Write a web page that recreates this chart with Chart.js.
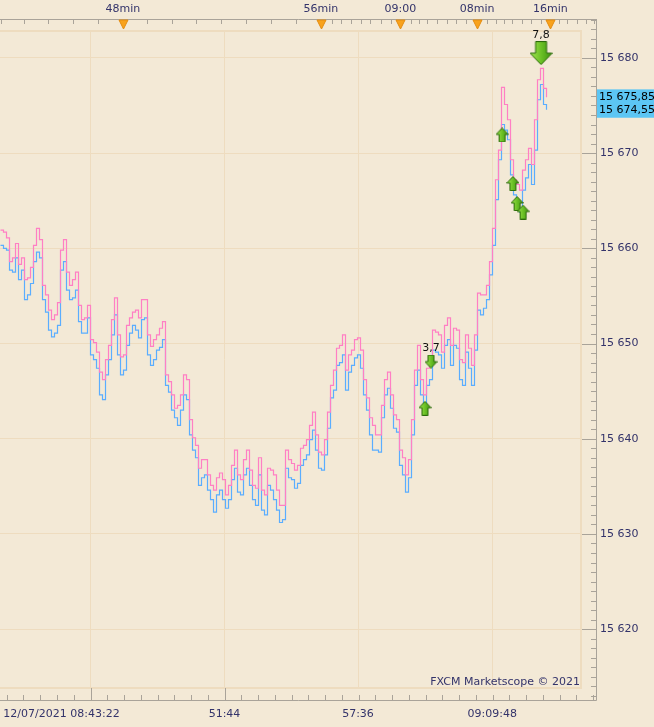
<!DOCTYPE html>
<html>
<head>
<meta charset="utf-8">
<script src="https://cdn.jsdelivr.net/npm/chart.js@4.4.1/dist/chart.umd.min.js"></script>
<style>
  html, body { margin: 0; padding: 0; background: #f3e9d6; }
  #wrap { width: 654px; height: 727px; position: relative; }
</style>
</head>
<body>
<div id="wrap"><canvas id="chart"></canvas></div>
<script>
// tick prices, one value per tick index (ask = pink, bid = blue)
var askPrice = [
  15661.9, 15661.7, 15661.1, 15658.6, 15659.0, 15660.5, 15658.3, 15659.0, 15656.7, 15656.9,
  15658.0, 15660.3, 15662.1, 15660.9, 15656.1, 15655.1, 15653.5, 15652.5, 15653.0, 15654.3,
  15659.8, 15660.9, 15657.5, 15656.1, 15656.7, 15657.5, 15654.0, 15652.5, 15652.7, 15654.0,
  15650.4, 15650.1, 15649.1, 15647.0, 15646.2, 15648.3, 15649.8, 15652.5, 15654.8, 15650.9,
  15648.6, 15648.8, 15651.9, 15652.7, 15653.3, 15653.5, 15652.7, 15654.6, 15654.6, 15650.9,
  15649.7, 15650.4, 15650.9, 15651.6, 15652.3, 15646.7, 15646.0, 15644.6, 15643.2, 15643.5,
  15644.6, 15646.7, 15646.2, 15642.0, 15640.1, 15639.3, 15636.9, 15637.8, 15637.8, 15636.2,
  15635.1, 15634.6, 15635.9, 15636.4, 15635.7, 15634.1, 15635.1, 15637.2, 15638.8, 15636.2,
  15635.7, 15637.8, 15638.8, 15636.7, 15635.1, 15634.8, 15638.0, 15634.6, 15634.1, 15636.9,
  15636.7, 15636.2, 15634.6, 15633.0, 15633.0, 15638.8, 15637.8, 15637.4, 15636.7, 15637.2,
  15639.0, 15639.3, 15639.9, 15641.4, 15642.8, 15640.4, 15638.6, 15638.3, 15639.9, 15642.8,
  15645.6, 15647.2, 15649.5, 15649.8, 15650.9, 15647.2, 15648.8, 15649.3, 15650.4, 15650.6,
  15649.3, 15646.2, 15644.3, 15642.2, 15641.4, 15640.4, 15640.4, 15643.5, 15646.2, 15647.0,
  15644.6, 15642.5, 15642.0, 15638.8, 15638.0, 15636.2, 15637.8, 15642.0, 15647.2, 15649.8,
  15646.2, 15644.6, 15647.4, 15648.0, 15651.4, 15651.2, 15650.9, 15649.1, 15651.9, 15652.7,
  15649.8, 15651.6, 15651.4, 15648.3, 15648.0, 15650.9, 15649.5, 15647.7, 15650.9, 15655.3,
  15655.1, 15655.1, 15656.1, 15658.6, 15662.1, 15667.2, 15670.3, 15676.9, 15675.1, 15673.5,
  15669.3, 15667.2, 15666.7, 15666.1, 15668.2, 15669.3, 15670.5, 15668.8, 15673.5, 15677.7,
  15678.9, 15676.8, 15675.85
];
var bidPrice = [
  15660.3, 15660.0, 15659.8, 15657.7, 15657.5, 15659.0, 15656.7, 15657.7, 15654.6, 15655.1,
  15656.3, 15658.6, 15659.6, 15659.0, 15654.6, 15653.3, 15651.4, 15650.7, 15651.1, 15651.9,
  15657.7, 15658.6, 15655.6, 15654.6, 15654.8, 15655.6, 15652.3, 15651.1, 15651.1, 15652.7,
  15648.8, 15648.3, 15647.4, 15644.6, 15644.1, 15646.7, 15648.3, 15650.9, 15653.0, 15648.8,
  15646.7, 15647.2, 15649.8, 15651.1, 15651.9, 15651.4, 15650.6, 15652.5, 15652.7, 15648.8,
  15647.7, 15648.3, 15649.3, 15649.6, 15650.4, 15645.6, 15644.9, 15643.0, 15642.2, 15641.4,
  15643.0, 15644.6, 15644.1, 15640.4, 15638.8, 15638.0, 15635.1, 15635.9, 15636.2, 15634.6,
  15633.6, 15632.3, 15634.1, 15634.6, 15633.6, 15632.7, 15633.6, 15635.7, 15636.9, 15634.4,
  15634.1, 15636.2, 15636.9, 15635.1, 15633.6, 15633.0, 15636.2, 15632.5, 15632.0, 15635.1,
  15634.6, 15633.6, 15632.5, 15631.2, 15631.5, 15636.9, 15635.9, 15635.7, 15634.8, 15635.3,
  15637.2, 15637.8, 15638.3, 15639.9, 15640.9, 15638.8, 15636.9, 15636.7, 15638.3, 15641.1,
  15644.3, 15645.1, 15647.7, 15648.0, 15648.8, 15645.1, 15647.0, 15647.7, 15648.5, 15648.8,
  15647.4, 15644.6, 15643.0, 15640.4, 15638.8, 15638.8, 15638.6, 15642.2, 15644.6, 15645.3,
  15643.2, 15641.1, 15640.7, 15637.2, 15636.2, 15634.4, 15635.9, 15640.4, 15645.6, 15647.2,
  15644.6, 15643.0, 15645.6, 15646.2, 15649.3, 15649.1, 15648.8, 15647.4, 15649.8, 15650.4,
  15647.7, 15649.8, 15649.5, 15646.2, 15645.6, 15649.1, 15647.4, 15645.6, 15649.3, 15653.5,
  15653.0, 15653.7, 15654.6, 15657.2, 15660.3, 15665.1, 15669.3, 15673.0, 15672.4, 15671.4,
  15667.7, 15665.6, 15664.8, 15663.8, 15666.1, 15667.4, 15668.8, 15666.7, 15670.3, 15675.6,
  15677.2, 15675.1, 15674.55
];

// trade markers (tick index, price, direction, label)
var markerIdx = [141.5, 143.5, 167.2, 170.8, 172.2, 174.2, 180.2];
var markerPrice = [15643.2, 15648.1, 15671.9, 15666.8, 15664.7, 15663.8, 15680.5];
var markerDir = ['up', 'down', 'up', 'up', 'up', 'up', 'bigdown'];
var markerText = ['', '3,7', '', '', '', '', '7,8'];

// axes
var yTicks = [15620, 15630, 15640, 15650, 15660, 15670, 15680];
var bottomTicks = [20.33, 30, 74.67, 119.17, 163.9];
var bottomLabels = ['12/07/2021 08:43:22', '', '51:44', '57:36', '09:09:48'];
var topTicks = [0, 7.8, 15.9, 24.2, 32.4, 40.8, 48.9, 57.1, 65.3, 73.6, 81.9, 90.2, 98.6, 106.8,
  110.6, 113.6, 116.7, 120, 123.3, 126.7, 130, 133.3, 136.7, 139.4, 142.2, 145.6, 148.9, 151.7,
  155, 158.9, 162.2, 165, 167.8, 170.6, 173.9, 176.7, 180, 183.3, 186.1, 188.9, 192.2, 195, 197.8];
var topLabelAt = [40.8, 106.8, 133.3, 158.9, 183.3];
var topLabels = ['48min', '56min', '09:00', '08min', '16min'];

var bg = '#f3e9d6';
var gridColor = '#eedcbf';
var axisColor = '#a9a399';
var textColor = '#33336a';
var font = { family: 'DejaVu Sans', size: 11 };

function fmtPrice(v, dec) {
  var s = v.toFixed(dec).split('.');
  var r = s[0].replace(/\B(?=(\d{3})+(?!\d))/g, ' ');
  return s.length > 1 ? r + ',' + s[1] : r;
}

function makeArrow(w, h, shaftW, headH, down) {
  var c = document.createElement('canvas');
  c.width = w; c.height = h;
  var g = c.getContext('2d');
  var m = w / 2, sl = m - shaftW / 2, sr = m + shaftW / 2;
  var pts = [[m, 0.5], [w - 0.5, headH], [sr, headH], [sr, h - 0.5], [sl, h - 0.5], [sl, headH], [0.5, headH]];
  g.beginPath();
  pts.forEach(function(p, i) {
    var y = down ? h - p[1] : p[1];
    if (i === 0) g.moveTo(p[0], y); else g.lineTo(p[0], y);
  });
  g.closePath();
  var grad = g.createLinearGradient(0, 0, w, 0);
  grad.addColorStop(0, '#a6e854');
  grad.addColorStop(0.5, '#6cc126');
  grad.addColorStop(1, '#3a8f0e');
  g.fillStyle = grad;
  g.fill();
  g.strokeStyle = '#2b6a0a';
  g.lineWidth = 1;
  g.stroke();
  return c;
}

var arrows = {
  up: makeArrow(13, 15, 6, 7, false),
  down: makeArrow(13, 14, 6, 7, true),
  bigdown: makeArrow(23, 24, 11, 12, true)
};

function noPad(s) {
  s.paddingLeft = 0; s.paddingRight = 0; s.paddingTop = 0; s.paddingBottom = 0;
}

var frame = {
  id: 'frame',
  beforeDatasetsDraw: function(chart) {
    var ctx = chart.ctx, a = chart.chartArea;
    var pr = 582, pt = 31, pb = 688;
    ctx.save();
    ctx.fillStyle = bg;
    ctx.fillRect(a.left, a.top, a.right - a.left, pt - a.top);
    ctx.fillRect(pr, a.top, a.right - pr, a.bottom - a.top);
    ctx.fillRect(a.left, pb, a.right - a.left, a.bottom - pb);
    ctx.strokeStyle = gridColor;
    ctx.lineWidth = 2;
    ctx.strokeRect(a.left - 2, pt, pr - a.left + 1, pb - pt);
    ctx.restore();
  },
  afterDraw: function(chart) {
    var ctx = chart.ctx, a = chart.chartArea;
    var xs = chart.scales.x, ys = chart.scales.y, ts = chart.scales.x2;
    ctx.save();
    ctx.strokeStyle = axisColor;
    ctx.lineWidth = 1;
    ctx.beginPath();
    ctx.moveTo(a.left, a.top + 0.5); ctx.lineTo(a.right + 0.5, a.top + 0.5);
    ctx.moveTo(a.right + 0.5, a.top); ctx.lineTo(a.right + 0.5, a.bottom + 0.5);
    ctx.moveTo(a.left, a.bottom + 0.5); ctx.lineTo(a.right + 0.5, a.bottom + 0.5);
    // top minute ticks
    topTicks.forEach(function(v) {
      var px = Math.round(ts.getPixelForValue(v)) + 0.5;
      ctx.moveTo(px, a.top); ctx.lineTo(px, a.top + 5);
    });
    // right axis ticks
    for (var p = 15613; p <= 15684; p++) {
      var py = Math.round(ys.getPixelForValue(p)) + 0.5;
      var major = yTicks.indexOf(p) >= 0;
      ctx.moveTo(major ? 582 : a.right - 5, py); ctx.lineTo(a.right, py);
    }
    // bottom ticks
    var step = (bottomTicks[2] - bottomTicks[1]) / 8;
    for (var t = bottomTicks[1] - step * 5; t < xs.max; t += step) {
      var bx = Math.round(xs.getPixelForValue(t)) + 0.5;
      var isMajor = bottomTicks.slice(1).some(function(m) { return Math.abs(m - t) < 0.01; });
      ctx.moveTo(bx, isMajor ? 688 : a.bottom - 5); ctx.lineTo(bx, a.bottom);
    }
    ctx.stroke();

    // orange markers on the time axis
    ctx.fillStyle = '#f8a21c';
    ctx.strokeStyle = '#e48c10';
    topLabelAt.forEach(function(v) {
      var px = Math.round(ts.getPixelForValue(v)) + 0.5;
      ctx.beginPath();
      ctx.moveTo(px - 4.5, a.top + 1);
      ctx.lineTo(px + 4.5, a.top + 1);
      ctx.lineTo(px, a.top + 10);
      ctx.closePath();
      ctx.fill();
      ctx.stroke();
    });

    // marker labels
    ctx.font = '11px "DejaVu Sans"';
    ctx.fillStyle = '#111';
    ctx.textAlign = 'center';
    ctx.textBaseline = 'middle';
    markerText.forEach(function(s, i) {
      if (!s) return;
      var img = arrows[markerDir[i]];
      var mx = xs.getPixelForValue(markerIdx[i]);
      var my = ys.getPixelForValue(markerPrice[i]);
      ctx.fillText(s, mx, my - img.height / 2 - 6);
    });

    // copyright
    ctx.fillStyle = textColor;
    ctx.textAlign = 'right';
    ctx.fillText('FXCM Marketscope \u00a9 2021', 580, 682);

    // last price badges
    var ask = askPrice[askPrice.length - 1], bid = bidPrice[bidPrice.length - 1];
    var ay = ys.getPixelForValue(ask), by = ys.getPixelForValue(bid);
    ctx.fillStyle = '#5cc6f4';
    ctx.fillRect(a.right + 1, ay - 8, chart.width - a.right - 1, by - ay + 16);
    ctx.fillStyle = '#000';
    ctx.textAlign = 'left';
    ctx.fillText(fmtPrice(ask, 2), a.right + 3, ay);
    ctx.fillText(fmtPrice(bid, 2), a.right + 3, by);
    ctx.restore();
  }
};

// index range of the visible window (3 px per tick, shifted half a pixel for crisp steps)
var xMin = -1 / 6;
var xMax = 198.5;

new Chart(document.getElementById('chart'), {
  type: 'line',
  data: {
    datasets: [
      {
        label: 'markers',
        data: markerIdx.map(function(v, i) { return { x: v, y: markerPrice[i] }; }),
        showLine: false,
        pointStyle: function(c) { return arrows[markerDir[c.dataIndex]]; },
        pointRadius: 6,
        order: 0
      },
      {
        label: 'Ask',
        data: askPrice.map(function(v, i) { return { x: i, y: v }; }),
        borderColor: '#ff7fc4',
        borderWidth: 1.2,
        pointRadius: 0,
        stepped: true,
        order: 1
      },
      {
        label: 'Bid',
        data: bidPrice.map(function(v, i) { return { x: i, y: v }; }),
        borderColor: '#5aadff',
        borderWidth: 1.2,
        pointRadius: 0,
        stepped: true,
        order: 2
      }
    ]
  },
  options: {
    responsive: true,
    maintainAspectRatio: false,
    animation: false,
    layout: { padding: 0, autoPadding: false },
    plugins: { legend: { display: false }, tooltip: { enabled: false } },
    scales: {
      x: {
        type: 'linear',
        position: 'bottom',
        min: xMin,
        max: xMax,
        afterBuildTicks: function(s) { s.ticks = bottomTicks.map(function(v) { return { value: v }; }); },
        afterFit: function(s) { s.height = 27; noPad(s); },
        ticks: {
          autoSkip: false, maxRotation: 0, padding: 8, color: textColor, font: font,
          callback: function(v, i) { return bottomLabels[i]; }
        },
        grid: {
          drawTicks: false,
          color: function(c) { return c.index === 0 ? 'rgba(0,0,0,0)' : gridColor; }
        },
        border: { display: false }
      },
      x2: {
        type: 'linear',
        position: 'top',
        min: xMin,
        max: xMax,
        afterBuildTicks: function(s) { s.ticks = topTicks.map(function(v) { return { value: v }; }); },
        afterFit: function(s) { s.height = 19; noPad(s); },
        ticks: {
          autoSkip: false, maxRotation: 0, padding: 3, color: textColor, font: font,
          callback: function(v) {
            var k = topLabelAt.indexOf(v);
            return k >= 0 ? topLabels[k] : '';
          }
        },
        grid: { display: false, drawTicks: false },
        border: { display: false }
      },
      y: {
        type: 'linear',
        position: 'right',
        min: 15612.56,
        max: 15684.08,
        afterBuildTicks: function(s) { s.ticks = yTicks.map(function(v) { return { value: v }; }); },
        afterFit: function(s) { s.width = 58; noPad(s); },
        ticks: {
          padding: 4, color: textColor, font: font,
          callback: function(v) { return fmtPrice(v, 0); }
        },
        grid: { drawTicks: false, color: gridColor },
        border: { display: false }
      }
    }
  },
  plugins: [frame]
});
</script>
</body>
</html>
